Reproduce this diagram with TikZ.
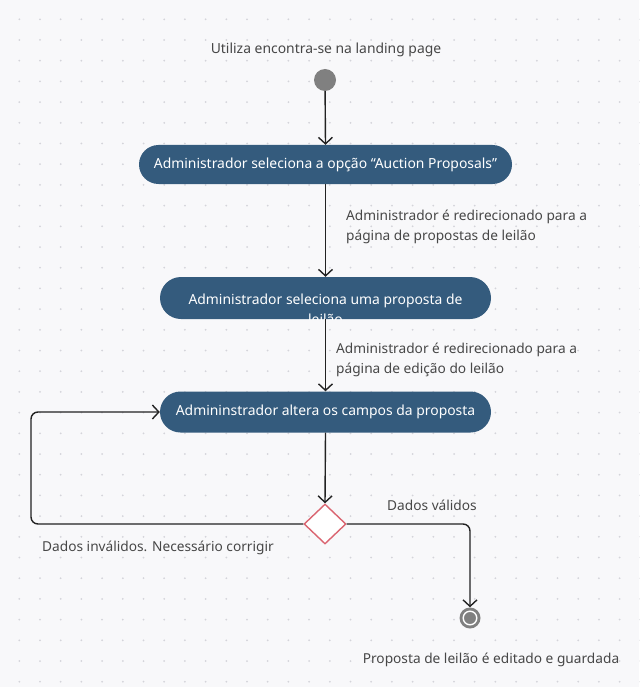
\documentclass[tikz,border=0pt]{standalone}
\usepackage{fontspec}
\setmainfont{Noto Sans}
\usetikzlibrary{arrows.meta,shapes.geometric}
\definecolor{bg}{HTML}{F8F8FA}
\definecolor{dotc}{HTML}{D4D4DA}
\definecolor{boxc}{HTML}{345B7D}
\definecolor{txtc}{HTML}{474747}
\definecolor{linec}{HTML}{222222}
\definecolor{diac}{HTML}{DA6470}
\definecolor{startc}{HTML}{808080}
\begin{document}
\begin{tikzpicture}[x=1pt,y=-1pt,
  every node/.style={font=\fontsize{13.9}{20}\selectfont},
  action/.style={rectangle, fill=boxc, text=white, inner sep=0pt},
  lbl/.style={text=txtc, inner sep=0pt, align=left},
  side/.style={lbl, font=\fontsize{13.7}{20}\selectfont},
  flow/.style={draw=linec, line width=1.4pt, -{Straight Barb[length=6.5pt,width=14pt,line width=1.4pt]}},
]
\fill[bg] (0,0) rectangle (639,687);
\useasboundingbox (0,0) rectangle (639,687);
\foreach \i in {0,...,30} \foreach \j in {0,...,32} \fill[dotc] ({19.3+20.7*\i},{19.3+20.7*\j}) circle (1);

\node[lbl] (title) at (326,50) {Utiliza encontra-se na landing page};
\node[circle, fill=startc, minimum size=22pt, inner sep=0pt] (start) at (325,80) {};

\node[action, rounded corners=19.5pt, minimum width=373pt, minimum height=39pt] (b1) at (325.5,164.5) {Administrador seleciona a opção “Auction Proposals”};

\node[action, rounded corners=21pt, minimum width=331pt, minimum height=42pt] (b2) at (325.5,298) {};
\begin{scope}
\clip[rounded corners=21pt] (b2.south west) rectangle (b2.north east);
\node[text=white, inner sep=0pt, anchor=base] (b2t1) at (325.5,304) {Administrador seleciona uma proposta de};
\node[text=white, inner sep=0pt, anchor=base] (b2t2) at (325.5,324) {leilão};
\end{scope}

\node[action, rounded corners=20.5pt, minimum width=331pt, minimum height=41pt] (b3) at (325.5,412) {Admininstrador altera os campos da proposta};

\node[diamond, draw=diac, fill=white, line width=1.4pt, minimum width=42pt, minimum height=40pt, inner sep=0pt] (dec) at (325,524) {};

\node[circle, fill=startc, minimum size=21pt, inner sep=0pt] (endn) at (470,618) {};
\draw[white, line width=1.4pt] (endn.center) circle (6.8);

\coordinate (loopx) at (31,524);

\draw[flow] (start) -- (b1.north);
\draw[flow] (b1.south) -- (b2.north);
\draw[flow] (b2.south) -- (b3.north);
\draw[flow] (b3.south) -- (dec.north);
\draw[flow, rounded corners=7pt] (dec.west) -- (loopx) |- (b3.west);
\draw[flow, rounded corners=7pt] (dec.east) -| (endn.north);

\node[side, anchor=west] (l1) at (346,226.5) {Administrador é redirecionado para a\\página de propostas de leilão};
\node[side, anchor=west] (l2) at (336,360) {Administrador é redirecionado para a\\página de edição do leilão};
\node[side, anchor=west] (l3) at (42,548) {Dados inválidos. Necessário corrigir};
\node[side] (l4) at (432,505.5) {Dados válidos};
\node[side] (l5) at (491,660) {Proposta de leilão é editado e guardada};
\end{tikzpicture}
\end{document}
